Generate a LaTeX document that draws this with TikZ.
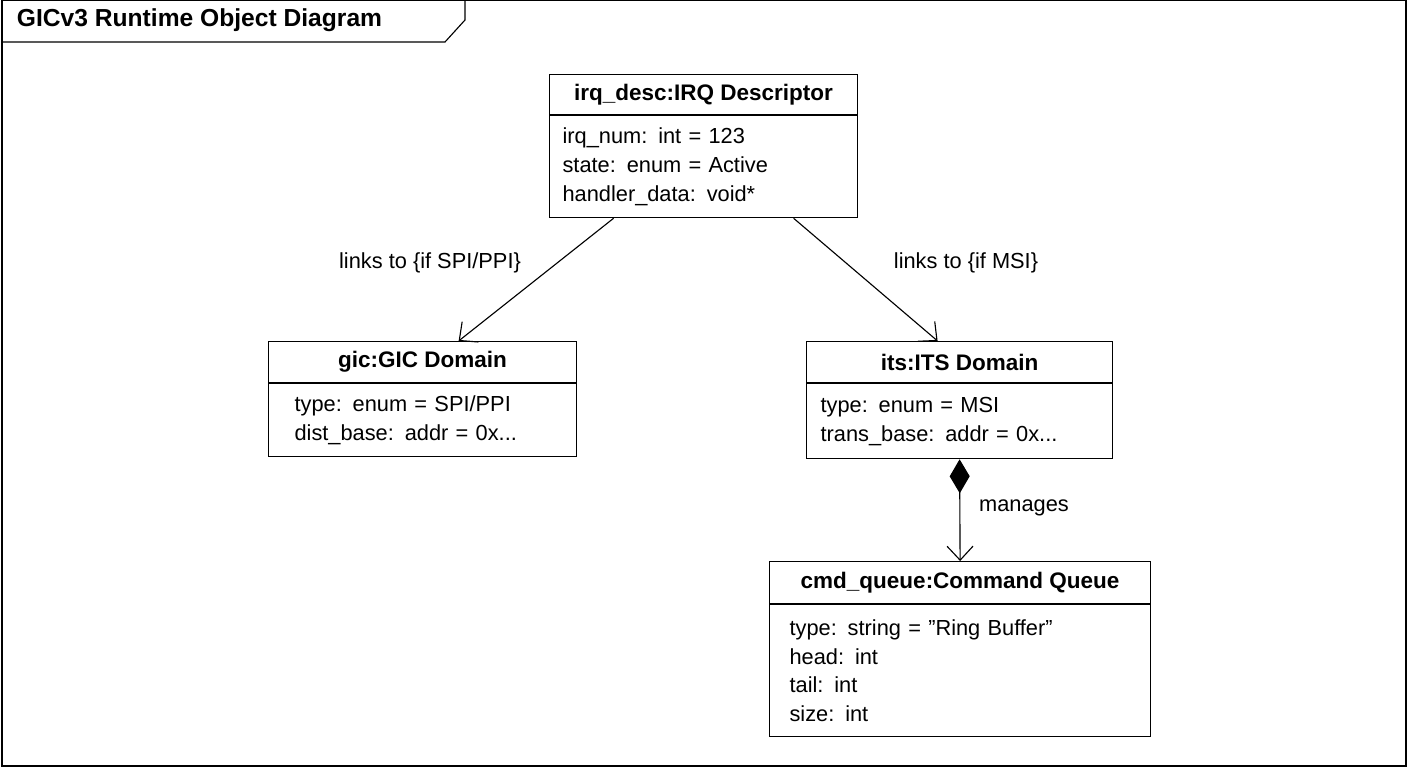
\documentclass[tikz,border=0pt]{standalone}
\usepackage{fontspec}
\setmainfont{Liberation Sans}
\usetikzlibrary{arrows.meta,positioning}

\tikzset{
  obj head/.style={draw,line width=.8pt,anchor=north west,inner sep=0pt,
    font=\fontsize{16}{19}\selectfont\bfseries},
  obj body/.style={draw,line width=.8pt,anchor=north west,inner ysep=0pt,
    align=left,font=\fontsize{15.5}{20.5}\selectfont},
  link/.style={line width=.8pt,-{Straight Barb[length=3.5mm,width=6.5mm]}},
  lbl/.style={font=\fontsize{15.5}{19}\selectfont}
}

\begin{document}
\begin{tikzpicture}[x=0.025cm,y=-0.025cm]

        \useasboundingbox (0,0) rectangle (1408,768);
        \draw[line width=.8pt] (2,0) rectangle (1406,766);
        \draw[line width=.8pt] (2,42) -- (445,42) -- (465,20) -- (465,0);
        \node[anchor=west,font=\fontsize{17.5}{20}\selectfont\bfseries] (title) at (12,20)
          {GICv3 Runtime Object Diagram};

        % irq descriptor
        \node[obj head,minimum width=7.7cm,minimum height=1cm] (irq head) at (549,74)
          {irq\_desc:IRQ Descriptor};
        \node[obj body,inner xsep=13*0.025cm,text width=7.05cm,minimum height=2.55cm]
          (irq body) at (irq head.south west)
          {irq\_num: int = 123\\ state: enum = Active\\ handler\_data: void*};

        % gic domain
        \node[obj head,minimum width=7.7cm,minimum height=1.025cm] (gic head) at (268,341)
          {gic:GIC Domain};
        \node[obj body,inner xsep=0.65cm,text width=6.4cm,minimum height=1.825cm]
          (gic body) at (gic head.south west)
          {type: enum = SPI/PPI\\ dist\_base: addr = 0x...};

        % its domain
        \node[obj head,minimum width=7.65cm,minimum height=1.025cm] (its head) at (806,341)
          {its:ITS Domain};
        \node[obj body,inner xsep=0.35cm,text width=6.95cm,minimum height=1.875cm]
          (its body) at (its head.south west)
          {type: enum = MSI\\ trans\_base: addr = 0x...};

        % command queue
        \node[obj head,minimum width=9.525cm,minimum height=1.05cm] (cmd head) at (769,561)
          {cmd\_queue:Command Queue};
        \node[obj body,inner xsep=0.5cm,text width=8.525cm,minimum height=3.3cm]
          (cmd body) at (cmd head.south west)
          {type: string = "Ring Buffer"\\ head: int\\ tail: int\\ size: int};

        \draw[link] ([xshift=-2.25cm]irq body.south) -- ([xshift=0.9cm]gic head.north);
        \draw[link] ([xshift=2.25cm]irq body.south) -- ([xshift=-0.55cm]its head.north);
        \draw[link,{Diamond[length=8.5mm,width=5mm,fill=black]}-{Straight Barb[length=3.5mm,width=6.5mm]}]
          (its body.south) -- (cmd head.north);

        \node[lbl] (spi lbl) at (430,263) {links to \{if SPI/PPI\}};
        \node[lbl] (msi lbl) at (966,263) {links to \{if MSI\}};
        \node[lbl] (mng lbl) at (1024,508) {manages};

      \end{tikzpicture}
\end{document}
